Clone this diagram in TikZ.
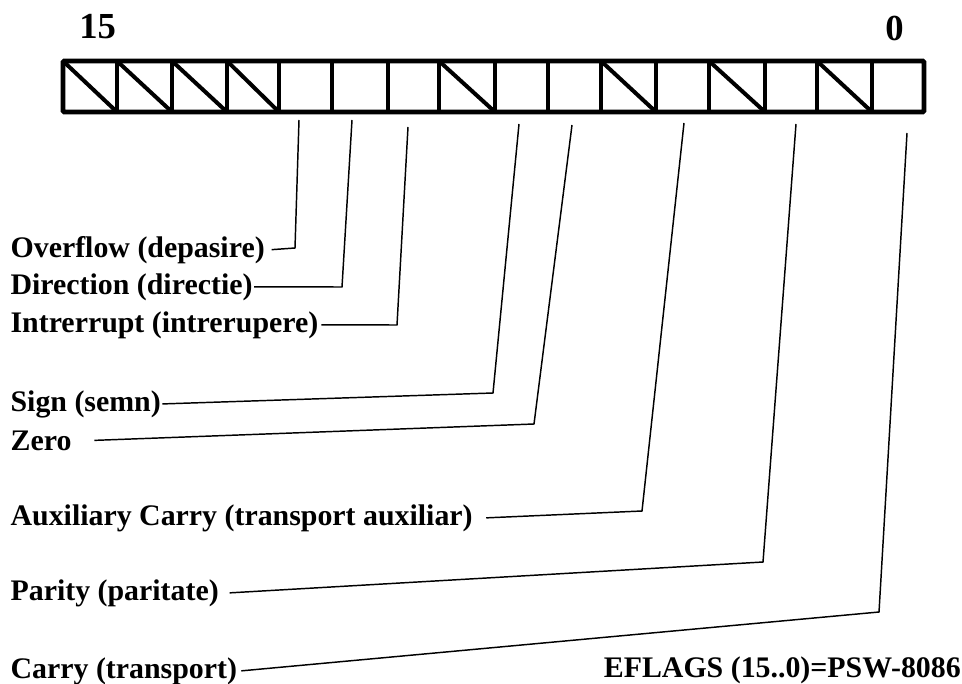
\documentclass[tikz,border=0pt]{standalone}
\usepackage{fontspec}
\setmainfont{Liberation Serif}
\tikzset{
  flagtext/.style={anchor=base west,inner sep=1pt,font=\fontsize{22.4}{26}\selectfont\bfseries},
  bitnum/.style={anchor=base west,inner sep=0pt,font=\fontsize{27.5}{30}\selectfont\bfseries},
  regline/.style={line width=3.6pt},
  hatch/.style={line width=3pt},
  leader/.style={line width=1.1pt}
}

\begin{document}
\begin{tikzpicture}[x=0.75pt,y=-0.75pt]
  \useasboundingbox (0,0) rectangle (962,684);
  % register, bit 15 on the left
  \node[bitnum] (b15) at (79,39) {15};
  \node[bitnum] (b0) at (885,41) {0};
  \draw[regline,rounded corners=1pt] (63,61) rectangle (924,112);
  \draw[regline] (117,61) -- (117,112) (172,61) -- (172,112) (227,61) -- (227,112)
    (279,61) -- (279,112) (332,61) -- (332,112) (388,61) -- (388,112)
    (439,61) -- (439,112) (495,61) -- (495,112) (548,61) -- (548,112)
    (601,61) -- (601,112) (656,61) -- (656,112) (709,61) -- (709,112)
    (765,61) -- (765,112) (817,61) -- (817,112) (872,61) -- (872,112);
  % unused bits
  \draw[hatch] (63,61) -- (117,112) (117,61) -- (172,112) (172,61) -- (227,112)
    (227,61) -- (279,112) (439,61) -- (495,112) (601,61) -- (656,112)
    (709,61) -- (765,112) (817,61) -- (872,112);
  % flag names
  \node[flagtext] (ovf) at (9,257) {Overflow (depasire)};
  \node[flagtext] (dir) at (9,294) {Direction (directie)};
  \node[flagtext] (intr) at (9,332) {Intrerrupt (intrerupere)};
  \node[flagtext] (sgn) at (9,411) {Sign (semn)};
  \node[flagtext] (zer) at (9,450) {Zero};
  \node[flagtext] (aux) at (9,525) {Auxiliary Carry (transport auxiliar)};
  \node[flagtext] (par) at (9,600) {Parity (paritate)};
  \node[flagtext] (cry) at (9,678) {Carry (transport)};
  \node[flagtext,anchor=base east,inner sep=0pt] (psw) at (961,677) {EFLAGS (15..0)=PSW-8086};
  % leader lines
  \coordinate (ovfbit) at (299,120); \coordinate (ovfknee) at (295,248);
  \coordinate (dirbit) at (352,120); \coordinate (dirknee) at (342,287);
  \coordinate (intrbit) at (408,127); \coordinate (intrknee) at (397,325);
  \coordinate (sgnbit) at (519,124); \coordinate (sgnknee) at (493,393);
  \coordinate (zerbit) at (572,125); \coordinate (zerknee) at (534,424);
  \coordinate (auxbit) at (684,123); \coordinate (auxknee) at (642,511);
  \coordinate (parbit) at (796,124); \coordinate (parknee) at (763,562);
  \coordinate (crybit) at (907,133); \coordinate (cryknee) at (879,612);
  \draw[leader] ([xshift=4pt]ovf.east) -- (ovfknee) -- (ovfbit);
  \draw[leader] (dir.east) -- (dirknee) -- (dirbit);
  \draw[leader] ([xshift=1pt]intr.east) -- (intrknee) -- (intrbit);
  \draw[leader] (sgn.east) -- (sgnknee) -- (sgnbit);
  \draw[leader] ([xshift=16pt]zer.east) -- (zerknee) -- (zerbit);
  \draw[leader] ([xshift=9pt]aux.east) -- (auxknee) -- (auxbit);
  \draw[leader] ([xshift=7pt]par.east) -- (parknee) -- (parbit);
  \draw[leader] ([xshift=2pt]cry.east) -- (cryknee) -- (crybit);
\end{tikzpicture}
\end{document}
